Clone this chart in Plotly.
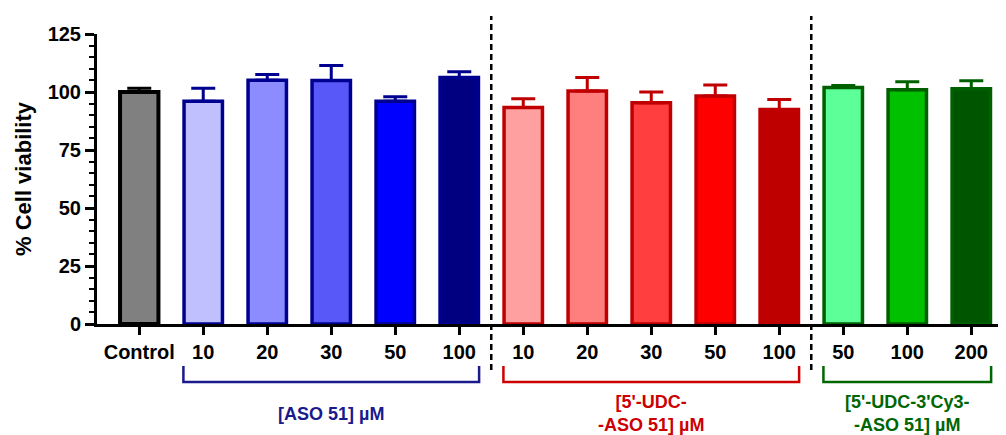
import plotly.graph_objects as go

# ---- data ----
control_labels = ["Control"]
control_values = [100.0]
control_err = [1.6]

aso_labels = ["10", "20", "30", "50", "100"]
aso_values = [96.0, 105.1, 105.0, 96.0, 106.2]
aso_err = [5.6, 2.4, 6.4, 1.9, 2.5]

udc_labels = ["10", "20", "30", "50", "100"]
udc_values = [93.3, 100.4, 95.4, 98.3, 92.5]
udc_err = [3.8, 5.9, 4.6, 4.7, 4.3]

cy3_labels = ["50", "100", "200"]
cy3_values = [101.9, 101.0, 101.4]
cy3_err = [0.9, 3.4, 3.5]

group_titles = ["[ASO 51] µM", "[5'-UDC-<br>-ASO 51] µM", "[5'-UDC-3'Cy3-<br>-ASO 51] µM"]

y_ticks = [0, 25, 50, 75, 100, 125]

# ---- styles ----
FONT = "Arial, Liberation Sans, sans-serif"
control_fill = ["#808080"]
aso_fill = ["#C0C0FF", "#8C8CFF", "#5858F8", "#0000FF", "#000080"]
udc_fill = ["#FFA0A0", "#FF7F7F", "#FF3F3F", "#FF0000", "#BF0000"]
cy3_fill = ["#5CFF98", "#00C000", "#005500"]
line_cols = ["#000000", "#000090", "#C00000", "#006000"]
label_cols = ["#1A1A8C", "#CC0000", "#006600"]

groups = [
    (control_labels, control_values, control_err, control_fill, line_cols[0], 4),
    (aso_labels, aso_values, aso_err, aso_fill, line_cols[1], 3.5),
    (udc_labels, udc_values, udc_err, udc_fill, line_cols[2], 3.5),
    (cy3_labels, cy3_values, cy3_err, cy3_fill, line_cols[3], 3.5),
]

fig = go.Figure()
all_labels = []
idx = 0
spans = []
for labels, vals, errs, fills, lc, lw in groups:
    xs = list(range(idx, idx + len(labels)))
    spans.append((xs[0], xs[-1]))
    all_labels += labels
    fig.add_trace(go.Bar(
        x=xs, y=vals, width=0.6,
        marker=dict(color=fills, line=dict(color=lc, width=lw)),
        error_y=dict(type="data", array=errs, arrayminus=[0] * len(errs),
                     symmetric=False, color=lc, thickness=3, width=12),
        showlegend=False,
    ))
    idx += len(labels)

# dashed separators between groups
for a, b in [(spans[1][1], spans[2][0]), (spans[2][1], spans[3][0])]:
    xm = (a + b) / 2
    fig.add_shape(type="line", xref="x", yref="paper", x0=xm, x1=xm,
                  y0=-0.159, y1=1.062,
                  line=dict(color="black", width=2.5, dash="6px,4px"))

# group brackets and labels
for (s, e), col, title in zip(spans[1:], label_cols, group_titles):
    x0 = s - 0.31
    x1 = e + 0.31
    yt, yb = -0.145, -0.2
    fig.add_shape(type="path", xref="x", yref="paper",
                  path=f"M {x0},{yt} L {x0},{yb} L {x1},{yb} L {x1},{yt}",
                  line=dict(color=col, width=2.5))
    fig.add_annotation(x=(s + e) / 2, xref="x", y=-0.31, yref="paper",
                       text=f"<b>{title}</b>", showarrow=False,
                       yanchor="middle", xanchor="center",
                       font=dict(family=FONT, size=18, color=col))

# page body has an 8px margin: size the figure so it fits the 1006x435 window
fig.update_layout(
    width=998, height=427,
    margin=dict(l=89, r=4, t=26, b=111),
    plot_bgcolor="white", paper_bgcolor="white",
    font=dict(family=FONT, color="black"),
)
fig.update_xaxes(
    range=[-0.66, 13.48],
    tickmode="array", tickvals=list(range(len(all_labels))),
    ticktext=[f"<b>{t}</b>" for t in all_labels],
    tickfont=dict(family=FONT, size=20, color="black"),
    ticks="outside", ticklen=8, tickwidth=2.5, tickcolor="black",
    showline=True, linewidth=3, linecolor="black",
    showgrid=False, zeroline=False,
)
fig.update_yaxes(
    range=[0, 125],
    tickmode="array", tickvals=y_ticks,
    ticktext=[f"<b>{t}</b>" for t in y_ticks],
    tickfont=dict(family=FONT, size=20, color="black"),
    ticks="outside", ticklen=9, tickwidth=2.5, tickcolor="black",
    minor=dict(dtick=5, ticks="outside", ticklen=5, tickwidth=2, tickcolor="black", showgrid=False),
    showline=True, linewidth=3, linecolor="black",
    showgrid=False, zeroline=False,
    title=dict(text="<b>% Cell viability</b>", font=dict(family=FONT, size=22, color="black"), standoff=10),
)

fig.write_html("out.html")
